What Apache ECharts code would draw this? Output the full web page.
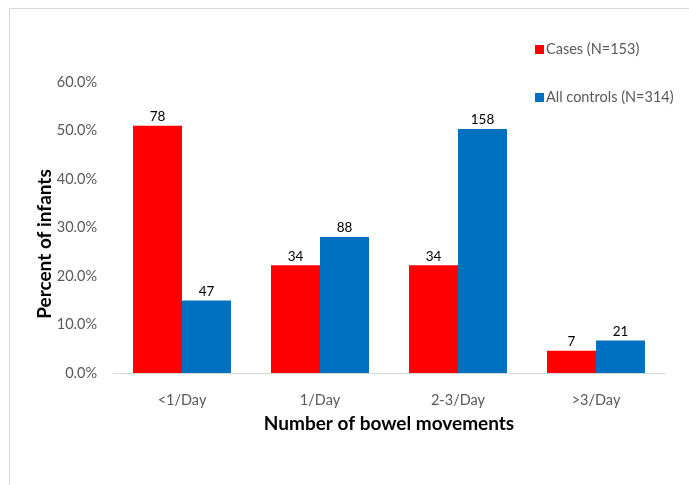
<!DOCTYPE html>
<html>
<head>
<meta charset="utf-8">
<script src="https://cdn.jsdelivr.net/npm/echarts@6/dist/echarts.min.js"></script>
<style>
  html, body { margin: 0; padding: 0; background: #ffffff; }
  #chart { width: 689px; height: 485px; }
</style>
</head>
<body>
<div id="chart"></div>
<script>
// Bowel movement frequency among cases and controls
const categories = ['<1/Day', '1/Day', '2-3/Day', '>3/Day'];
const casesN = 153;
const controlsN = 314;
const casesCounts = [78, 34, 34, 7];
const controlsCounts = [47, 88, 158, 21];
const yTicks = [0, 10, 20, 30, 40, 50, 60];

const toPct = (counts, n) => counts.map(c => ({ value: c / n * 100, count: c }));

const FONT = 'Lato, "Open Sans", sans-serif';

const chart = echarts.init(document.getElementById('chart'), null, { renderer: 'canvas' });

chart.setOption({
  animation: false,
  backgroundColor: '#ffffff',
  graphic: [
    {
      type: 'rect',
      shape: { x: 9.5, y: 8.5, width: 720, height: 520 },
      style: { fill: 'none', stroke: '#d9d9d9', lineWidth: 1 },
      silent: true
    },
    {
      type: 'text',
      x: 45,
      y: 244,
      rotation: Math.PI / 2,
      style: {
        text: 'Percent of infants',
        fontFamily: FONT, fontSize: 19, fontWeight: 'bold', fill: '#000000',
        align: 'center', verticalAlign: 'middle'
      },
      silent: true
    }
  ],
  grid: { left: 113, right: 24, top: 82, bottom: 112 },
  legend: {
    orient: 'vertical',
    left: 530,
    top: 37,
    itemGap: 33,
    itemWidth: 9,
    itemHeight: 9,
    icon: 'rect',
    textStyle: { fontFamily: FONT, fontSize: 14.5, color: '#595959', padding: [0, 0, 0, -3] },
    data: ['Cases (N=153)', 'All controls (N=314)']
  },
  xAxis: {
    type: 'category',
    data: categories,
    name: 'Number of bowel movements',
    nameLocation: 'middle',
    nameGap: 41,
    nameTextStyle: { fontFamily: FONT, fontSize: 19, fontWeight: 'bold', color: '#000000' },
    axisLine: { lineStyle: { color: '#d9d9d9', width: 1 } },
    axisTick: { show: false },
    axisLabel: { fontFamily: FONT, fontSize: 14.5, color: '#595959', margin: 20 }
  },
  yAxis: {
    type: 'value',
    min: yTicks[0],
    max: yTicks[yTicks.length - 1],
    interval: 10,
    axisLine: { show: false },
    axisTick: { show: false },
    splitLine: { show: false },
    axisLabel: {
      fontFamily: FONT, fontSize: 14.5, color: '#595959', margin: 16,
      formatter: v => v.toFixed(1) + '%'
    }
  },
  series: [
    {
      name: 'Cases (N=153)',
      type: 'bar',
      data: toPct(casesCounts, casesN),
      barGap: '0%',
      barCategoryGap: '29%',
      itemStyle: { color: '#ff0000' },
      label: {
        show: true, position: 'top', distance: 2,
        fontFamily: FONT, fontSize: 13.5, color: '#000000',
        formatter: p => p.data.count
      }
    },
    {
      name: 'All controls (N=314)',
      type: 'bar',
      data: toPct(controlsCounts, controlsN),
      barGap: '0%',
      barCategoryGap: '29%',
      itemStyle: { color: '#0070c0' },
      label: {
        show: true, position: 'top', distance: 2,
        fontFamily: FONT, fontSize: 13.5, color: '#000000',
        formatter: p => p.data.count
      }
    }
  ]
});
</script>
</body>
</html>
